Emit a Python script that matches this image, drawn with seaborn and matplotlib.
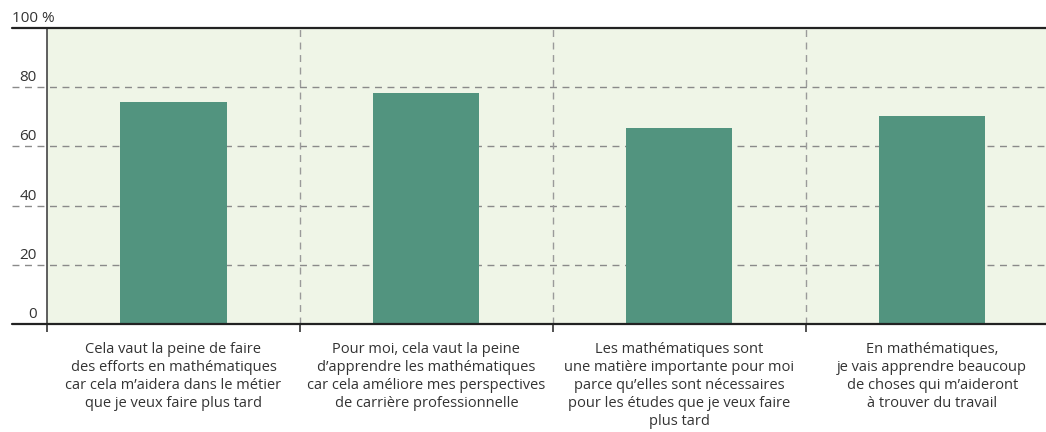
import matplotlib
matplotlib.use("Agg")
import matplotlib.pyplot as plt
import matplotlib.transforms as mtransforms
import pandas as pd
import seaborn as sns

categories = [
    "Cela vaut la peine de faire\ndes efforts en mathématiques\ncar cela m’aidera dans le métier\nque je veux faire plus tard",
    "Pour moi, cela vaut la peine\nd’apprendre les mathématiques\ncar cela améliore mes perspectives\nde carrière professionnelle",
    "Les mathématiques sont\nune matière importante pour moi\nparce qu’elles sont nécessaires\npour les études que je veux faire\nplus tard",
    "En mathématiques,\nje vais apprendre beaucoup\nde choses qui m’aideront\nà trouver du travail",
]
values = [75.0, 78.0, 66.2, 70.3]
y_ticks = [0, 20, 40, 60, 80]

sns.set_style("white")
plt.rcParams["font.family"] = ["Open Sans", "DejaVu Sans"]

df = pd.DataFrame({"cat": categories, "val": values})

fig = plt.figure(figsize=(10.46, 4.32), dpi=100)
ax = fig.add_axes([47 / 1046, 108 / 432, 999 / 1046, 296 / 432])
ax.set_facecolor("#eff5e7")

sns.barplot(data=df, x="cat", y="val", color="#52947f", width=0.42,
            saturation=1, linewidth=0, edgecolor="none", ax=ax, zorder=3)

ax.set_ylim(0, 100)
ax.set_xlim(-0.5, 3.45)
ax.set_xlabel("")
ax.set_ylabel("")
ax.set_yticks([])

# category labels, boundary ticks below the axis
ax.set_xticks(range(len(categories)))
ax.set_xticklabels(categories, fontsize=10.5, color="#333333", linespacing=1.27)
ax.tick_params(axis="x", which="major", length=0, pad=13)
ax.set_xticks([-0.5, 0.5, 1.5, 2.5], minor=True)
ax.tick_params(axis="x", which="minor", bottom=True, length=6, width=1.2,
               color="#333333", direction="out")

for s in ["top", "right", "bottom"]:
    ax.spines[s].set_visible(False)
ax.spines["left"].set_color("#444444")
ax.spines["left"].set_linewidth(1.2)

# dashed grid, extended to the left of the axis
xmin = -35 / 999
for y in y_ticks[1:]:
    ax.axhline(y, xmin=xmin, xmax=1, color="#8a8a8a", lw=1, ls=(0, (5, 4)),
               clip_on=False, zorder=1)
for x in [0.5, 1.5, 2.5]:
    ax.axvline(x, color="#9a9a9a", lw=1, ls=(0, (5, 4)), zorder=1)
ax.axhline(100, xmin=xmin, xmax=1, color="#222222", lw=1.6, clip_on=False, zorder=4)
ax.axhline(0, xmin=xmin, xmax=1, color="#222222", lw=1.6, clip_on=False, zorder=4)

# y labels sitting above their lines
trans = mtransforms.blended_transform_factory(fig.transFigure, ax.transData)
offset = mtransforms.ScaledTranslation(0, 2 / 100, fig.dpi_scale_trans)
for y in y_ticks:
    ax.text(37 / 1046, y, str(y), transform=trans + offset, ha="right",
            va="bottom", fontsize=11, color="#333333")
ax.text(12 / 1046, 100, "100 %", transform=trans + offset, ha="left",
        va="bottom", fontsize=11, color="#333333")

fig.savefig("out.png", dpi=100)
